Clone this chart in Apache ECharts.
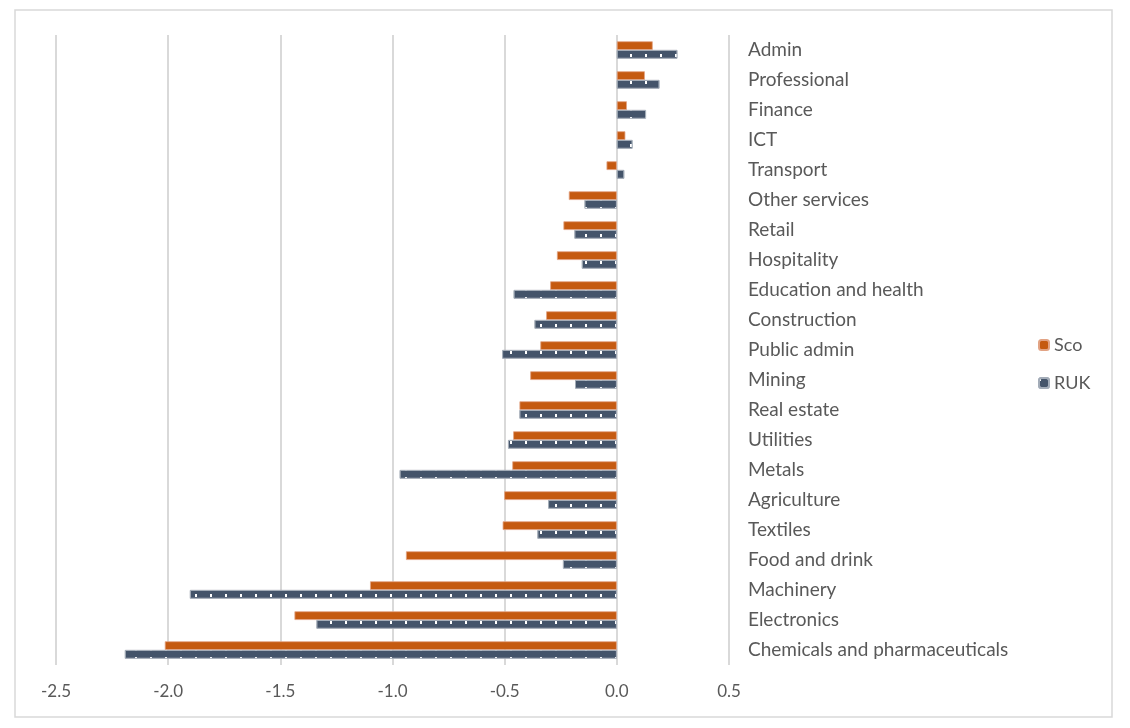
<!DOCTYPE html>
<html>
<head>
<meta charset="utf-8">
<script src="https://cdn.jsdelivr.net/npm/echarts@6/dist/echarts.min.js"></script>
<style>
  html, body { margin: 0; padding: 0; background: #fff; }
  #main { width: 1130px; height: 728px; }
</style>
</head>
<body>
<div id="main"></div>
<script>
// 数据
var categories = ['Admin', 'Professional', 'Finance', 'ICT', 'Transport', 'Other services', 'Retail',
  'Hospitality', 'Education and health', 'Construction', 'Public admin', 'Mining', 'Real estate',
  'Utilities', 'Metals', 'Agriculture', 'Textiles', 'Food and drink', 'Machinery', 'Electronics',
  'Chemicals and pharmaceuticals'];
var sco = [0.16, 0.125, 0.045, 0.038, -0.046, -0.214, -0.238, -0.267, -0.297, -0.315, -0.341,
  -0.386, -0.434, -0.462, -0.466, -0.502, -0.509, -0.94, -1.10, -1.437, -2.015];
var ruk = [0.27, 0.19, 0.13, 0.07, 0.033, -0.144, -0.189, -0.156, -0.46, -0.367, -0.511,
  -0.186, -0.434, -0.485, -0.968, -0.306, -0.354, -0.24, -1.903, -1.339, -2.193];
var seriesNames = ['Sco', 'RUK'];

var myChart = echarts.init(document.getElementById('main'));

var font = 'Lato, "Open Sans", sans-serif';

var option = {
  animation: false,
  textStyle: { fontFamily: font },
  graphic: [{
    type: 'rect',
    shape: { x: 15, y: 10, width: 1097, height: 707 },
    style: { fill: 'none', stroke: '#d9d9d9', lineWidth: 1.5 },
    silent: true
  }],
  legend: {
    data: seriesNames,
    orient: 'vertical',
    left: 1033,
    top: 331,
    itemWidth: 10,
    itemHeight: 10,
    itemGap: 20,
    textStyle: { color: '#595959', fontSize: 18, fontFamily: font }
  },
  grid: {
    left: 56,
    right: 401,
    top: 35,
    bottom: 63,
    containLabel: false
  },
  xAxis: {
    type: 'value',
    min: -2.5,
    max: 0.5,
    interval: 0.5,
    axisLine: { show: false },
    axisTick: { show: false },
    splitLine: { lineStyle: { color: '#d9d9d9', width: 2 } },
    axisLabel: {
      color: '#595959',
      fontSize: 17,
      margin: 18,
      formatter: function (v) { return v.toFixed(1); }
    }
  },
  yAxis: {
    type: 'category',
    data: categories,
    inverse: true,
    position: 'right',
    axisLine: { show: false },
    axisTick: { show: false },
    axisLabel: {
      color: '#595959',
      fontSize: 19,
      margin: 19,
      align: 'left'
    }
  },
  series: [{
    name: 'Sco',
    type: 'bar',
    data: sco,
    barCategoryGap: '42%',
    barGap: '0%',
    itemStyle: { color: '#c55a11', borderColor: '#e2a384', borderWidth: 0.8 }
  }, {
    name: 'RUK',
    type: 'bar',
    data: ruk,
    barCategoryGap: '42%',
    barGap: '0%',
    itemStyle: {
      color: '#44546a',
      borderColor: '#a3acb8',
      borderWidth: 0.8,
      decal: {
        symbol: 'rect',
        color: '#ffffff',
        symbolSize: 1,
        dashArrayX: [1.5, 12.5],
        dashArrayY: [2.5, 6],
        rotation: 0
      }
    }
  }]
};

myChart.setOption(option);
</script>
</body>
</html>
